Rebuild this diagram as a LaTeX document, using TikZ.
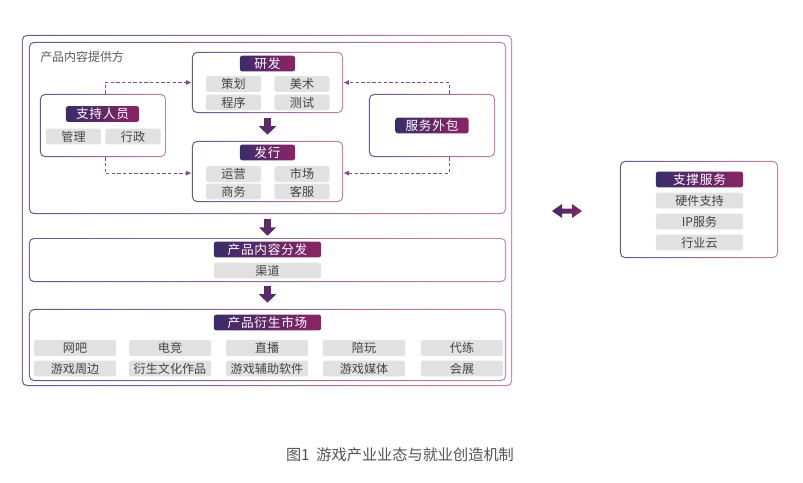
\documentclass[tikz,border=0pt]{standalone}
\usepackage{fontspec}
\setmainfont{Noto Sans CJK SC}
\newfontfamily\headfont[LetterSpace=6]{Noto Sans CJK SC}
\usetikzlibrary{arrows.meta}

\definecolor{gradA}{HTML}{3A2C69}
\definecolor{gradB}{HTML}{8B2464}
\definecolor{lineA}{HTML}{65588F}
\definecolor{lineB}{HTML}{C283A8}
\definecolor{itemgray}{HTML}{E1E1E1}
\definecolor{itemtext}{HTML}{444444}
\definecolor{arrowc}{HTML}{5A2A6C}
\definecolor{dashc}{HTML}{7C4D84}

\tikzset{
	box/.style={rectangle, rounded corners=3.5pt, inner sep=0pt,
        path picture={
\shade[left color=lineA, right color=lineB] (path picture bounding box.south west) rectangle (path picture bounding box.north east);
\fill[white, rounded corners=3pt] ([shift={(0.75pt,0.75pt)}]path picture bounding box.south west) rectangle ([shift={(-0.75pt,-0.75pt)}]path picture bounding box.north east);
							}
	},
	head/.style={rectangle, rounded corners=1.5pt, left color=gradA, right color=gradB,
		text=white, font=\headfont\fontsize{9}{10}\selectfont, minimum height=0.39cm, inner sep=0pt},
	item/.style={rectangle, rounded corners=1.5pt, fill=itemgray, text=itemtext,
		font=\fontsize{8.6}{10}\selectfont, minimum height=0.39cm, inner sep=0pt},
	link/.style={dashc, dashed, dash pattern=on 2.4pt off 1.6pt, line width=0.7pt, -{Latex[length=4pt,width=3.6pt]}},
	down/.style={arrowc, line width=4.3pt, -{Triangle[length=6pt,width=12pt]}}
}

\begin{document}
\begin{tikzpicture}[x=0.025cm,y=-0.025cm]
\useasboundingbox (0,0) rectangle (803,482);

%Rahmen
\node[box, minimum width=12.25cm, minimum height=8.775cm] (outer) at (267,210.5) {};
\node[box, minimum width=11.925cm, minimum height=4.3cm] (provider) at (267.5,128) {};
\node[anchor=west, inner sep=0pt, text=black!65, font=\fontsize{8.5}{10}\selectfont] (providertitle) at (40,56.5) {产品内容提供方};

%Forschung und Vertrieb
\node[box, minimum width=3.775cm, minimum height=1.525cm] (yanfa) at (267.5,82.5) {};
\node[head, minimum width=1.375cm] (yanfahead) at (267.5,63.5) {研发};
\node[item, minimum width=1.375cm] (cehua) at (233.5,84) {策划};
\node[item, minimum width=1.375cm] (meishu) at (302,84) {美术};
\node[item, minimum width=1.375cm] (chengxu) at (233.5,102.5) {程序};
\node[item, minimum width=1.375cm] (ceshi) at (302,102.5) {测试};

\node[box, minimum width=3.775cm, minimum height=1.525cm] (faxing) at (267.5,171.5) {};
\node[head, minimum width=1.375cm] (faxinghead) at (267.5,152.5) {发行};
\node[item, minimum width=1.375cm] (yunying) at (233.5,174) {运营};
\node[item, minimum width=1.375cm] (shichangitem) at (302,174) {市场};
\node[item, minimum width=1.375cm] (shangwu) at (233.5,191.5) {商务};
\node[item, minimum width=1.375cm] (kefu) at (302,191.5) {客服};

\node[box, minimum width=3.15cm, minimum height=1.575cm] (zhichi) at (103,125.5) {};
\node[head, minimum width=1.825cm] (zhichihead) at (102.5,114) {支持人员};
\node[item, minimum width=1.375cm] (guanli) at (73.5,136.5) {管理};
\node[item, minimum width=1.375cm] (xingzheng) at (133,136.5) {行政};

\node[box, minimum width=3.15cm, minimum height=1.575cm] (waibao) at (432,125.5) {};
\node[head, minimum width=1.825cm] (waibaohead) at (432,125.5) {服务外包};

%Verteilung
\node[box, minimum width=11.925cm, minimum height=1.1cm] (fenfa) at (267.5,260) {};
\node[head, minimum width=2.675cm] (fenfahead) at (267.5,249.5) {产品内容分发};
\node[item, minimum width=2.675cm] (qudao) at (267.5,270.5) {渠道};

%Markt
\node[box, minimum width=11.925cm, minimum height=1.8cm] (market) at (267.5,345) {};
\node[head, minimum width=2.675cm] (markethead) at (267.5,322.5) {产品衍生市场};
\foreach \x/\a/\b [count=\i] in {75/网吧/游戏周边, 170/电竞/衍生文化作品, 267/直播/游戏辅助软件, 364/陪玩/游戏媒体, 462/代练/会展}{
\node[item, minimum width=2.05cm] (mtop\i) at (\x,348) {\a};
\node[item, minimum width=2.05cm] (mbot\i) at (\x,368.5) {\b};
}

%Stuetzdienste
\node[box, minimum width=3.95cm, minimum height=2.425cm] (support) at (699,209.5) {};
\node[head, minimum width=2.175cm] (supporthead) at (699.5,179.5) {支撑服务};
\node[item, minimum width=2.175cm] (yingjian) at (699.5,200.5) {硬件支持};
\node[item, minimum width=2.175cm] (ipfuwu) at (699.5,221.5) {IP服务};
\node[item, minimum width=2.175cm] (hangyeyun) at (699.5,242.5) {行业云};

\node[text=black!68, font=\fontsize{10.8}{12}\selectfont] (caption) at (400,454.5) {图1\hspace{0.45em}游戏产业业态与就业创造机制};

%Pfeile
\draw[link] ([xshift=0.05cm]zhichi.north) |- (yanfa.west);
\draw[link] ([xshift=0.05cm]zhichi.south) |- ([yshift=-0.04cm]faxing.west);
\draw[link] ([xshift=0.425cm]waibao.north) |- (yanfa.east);
\draw[link] ([xshift=0.425cm]waibao.south) |- ([yshift=-0.04cm]faxing.east);

\draw[down, shorten <=3.6pt, shorten >=4.3pt] (yanfa.south) -- (faxing.north);
\draw[down, shorten <=3.6pt, shorten >=1.4pt] (provider.south) -- (fenfa.north);
\draw[down, shorten <=2.8pt, shorten >=4.3pt] (fenfa.south) -- (market.north);

\shade[left color=gradA, right color=gradB] (552,211) -- (562,204) -- (562,208.5) -- (572,208.5) -- (572,204) -- (582,211) -- (572,218) -- (572,213.5) -- (562,213.5) -- (562,218) -- cycle;
\end{tikzpicture}
\end{document}
